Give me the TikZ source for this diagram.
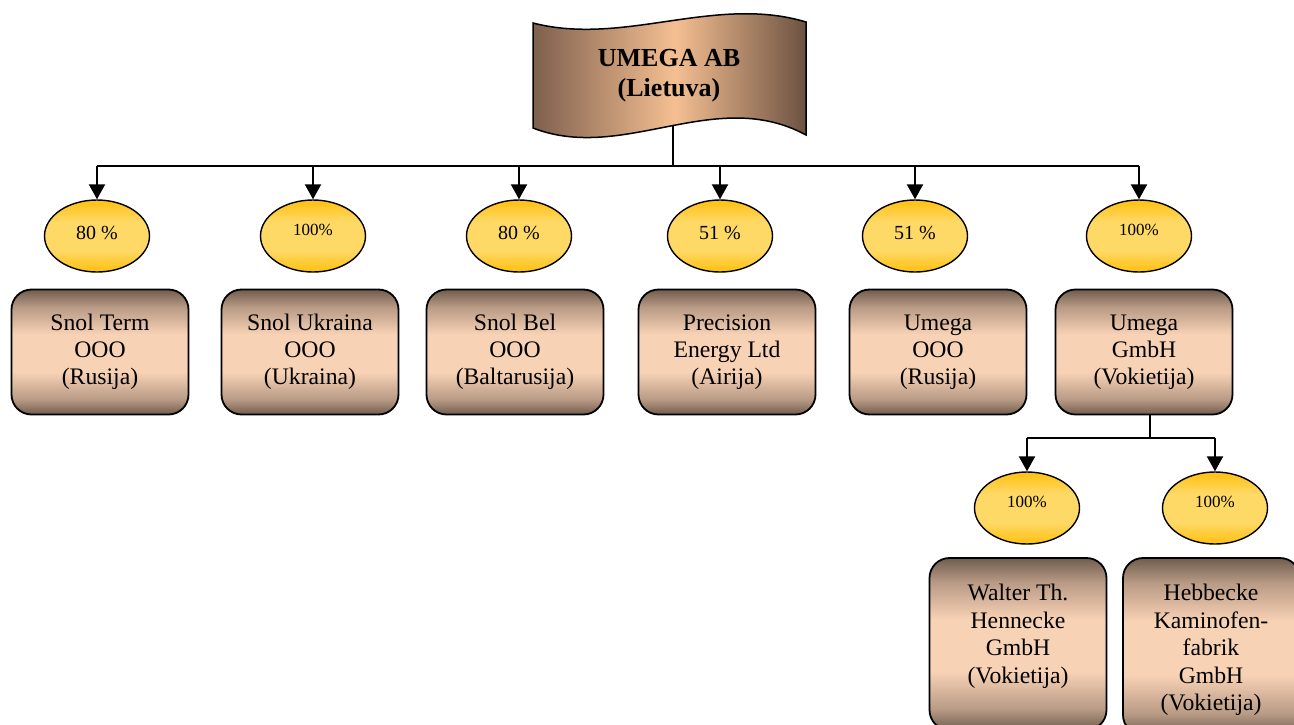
\documentclass[tikz,border=0pt]{standalone}
\usepackage{fontspec}
\setmainfont{Liberation Serif}
\usetikzlibrary{shapes.geometric,arrows.meta}
\definecolor{bxbrown}{HTML}{705D4E}
\definecolor{bxmid}{HTML}{B89A85}
\definecolor{bxpeach}{HTML}{F8D2B5}
\definecolor{bnleft}{HTML}{7E604D}
\definecolor{bnright}{HTML}{6C5242}
\definecolor{bnpeach}{HTML}{F5BF92}
\definecolor{elgold}{HTML}{FFC00E}
\definecolor{ellight}{HTML}{FFD966}
% the path's bounding box maps to [25bp,75bp]
\pgfdeclareverticalshading{boxshade}{100bp}{color(0bp)=(bxbrown); color(25bp)=(bxbrown); color(31bp)=(bxmid); color(42bp)=(bxpeach); color(57bp)=(bxpeach); color(68bp)=(bxmid); color(75bp)=(bxbrown); color(100bp)=(bxbrown)}
\pgfdeclareverticalshading{ellshade}{100bp}{color(0bp)=(elgold); color(25bp)=(elgold); color(40bp)=(ellight); color(60bp)=(ellight); color(75bp)=(elgold); color(100bp)=(elgold)}
\pgfdeclarehorizontalshading{bannershade}{100bp}{color(0bp)=(bnleft); color(25bp)=(bnleft); color(51bp)=(bnpeach); color(75bp)=(bnright); color(100bp)=(bnright)}
\tikzset{
  pct/.style={ellipse, draw=black, line width=1.4pt, shading=ellshade, minimum width=105pt, minimum height=72pt, inner sep=0pt},
  pctbig/.style={pct, font=\fontsize{20}{24}\selectfont, text height=13.6pt, text depth=6pt},
  pctsmall/.style={pct, font=\fontsize{17}{20}\selectfont, text height=11.6pt, text depth=12pt},
  company/.style={rectangle, rounded corners=20pt, draw=black, line width=1.8pt, shading=boxshade, minimum width=177pt, minimum height=125pt, inner sep=0pt, align=center, font=\fontsize{23.7}{27}\selectfont},
  companytext/.style={inner sep=0pt, align=center, font=\fontsize{23.7}{27.5}\selectfont},
  conn/.style={draw=black, line width=1.5pt},
  arr/.style={draw=black, line width=2.2pt, -{Triangle[length=15pt,width=16pt]}}
}
\begin{document}
\begin{tikzpicture}[x=1pt,y=-1pt]
\useasboundingbox (0,0) rectangle (1294,724);
\clip (0,0) rectangle (1294,724);
% banner
\path[shading=bannershade, draw=black, line width=1.5pt]
  (533,23) .. controls (624,46.5) and (715,-5.5) .. (806,22) -- (806,135)
  .. controls (715,85.6) and (624,163.3) .. (533,128) -- cycle;
\node[font=\fontsize{26}{30}\selectfont\bfseries, align=center, inner sep=0pt] (banner) at (669,76) {UMEGA AB\\(Lietuva)};
\coordinate (bb) at (673,125);
\coordinate (busA) at (0,166);
\coordinate (busB) at (0,438);
% percentages
\node[pctbig]   (e1) at (97,236)  {80 \%};
\node[pctsmall] (e2) at (313,236) {100\%};
\node[pctbig]   (e3) at (519,236) {80 \%};
\node[pctbig]   (e4) at (720,236) {51 \%};
\node[pctbig]   (e5) at (915,236) {51 \%};
\node[pctsmall] (e6) at (1139,236) {100\%};
% companies
\node[company] (bx1) at (100,352) {Snol Term\\OOO\\(Rusija)};
\node[company] (bx2) at (310,352) {Snol Ukraina\\OOO\\(Ukraina)};
\node[company] (bx3) at (515,352) {Snol Bel\\OOO\\(Baltarusija)};
\node[company] (bx4) at (727,352) {Precision\\Energy Ltd\\(Airija)};
\node[company] (bx5) at (938,352) {Umega\\OOO\\(Rusija)};
\node[company] (bx6) at (1144,352) {Umega\\GmbH\\(Vokietija)};
% second level
\node[pctsmall] (e7) at (1027,508) {100\%};
\node[pctsmall] (e8) at (1215,508) {100\%};
\node[company, minimum height=172pt] (bx7) at (1018,644) {};
\node[company, minimum height=177pt] (bx8) at (1211.5,646.5) {};
\node[companytext, anchor=north] (t7) at (1018,584) {Walter Th.\\Hennecke\\GmbH\\(Vokietija)};
\node[companytext, anchor=north] (t8) at (1211,584) {Hebbecke\\Kaminofen-\\fabrik\\GmbH\\(Vokietija)};
% connectors
\draw[conn] (bb) -- (bb |- busA);
\draw[conn] (e1.north |- busA) -- (e6.north |- busA);
\foreach \i in {1,...,6} { \draw[arr] (e\i.north |- busA) -- (e\i.north); }
\draw[conn] ([xshift=6pt]bx6.south) -- ([xshift=6pt]bx6.south |- busB);
\draw[conn] (e7.north |- busB) -- (e8.north |- busB);
\draw[arr] (e7.north |- busB) -- (e7.north);
\draw[arr] (e8.north |- busB) -- (e8.north);
\end{tikzpicture}
\end{document}
